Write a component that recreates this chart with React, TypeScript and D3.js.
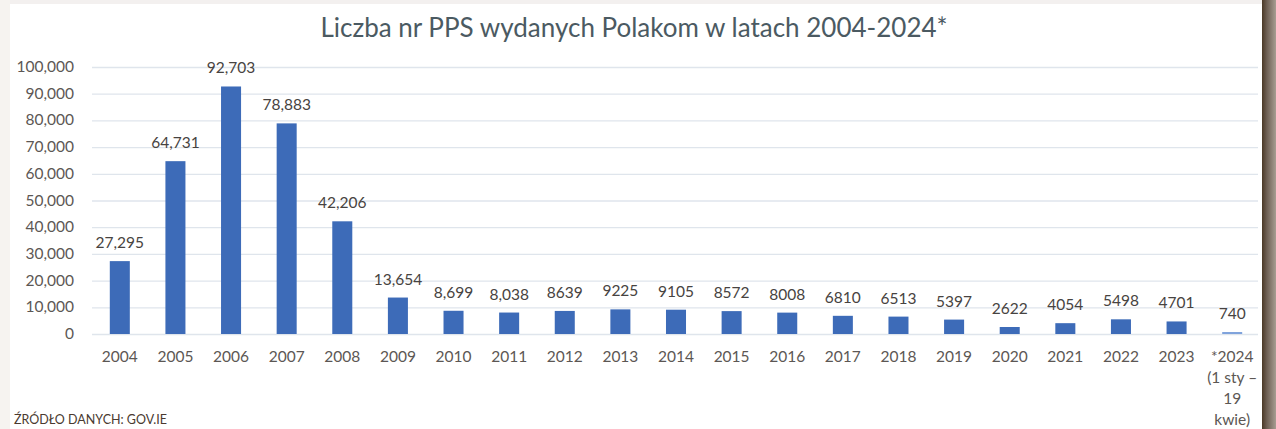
import * as d3 from "d3";
import React, { useRef, useEffect } from "react";

const years = ["2004", "2005", "2006", "2007", "2008", "2009", "2010", "2011", "2012", "2013", "2014", "2015", "2016", "2017", "2018", "2019", "2020", "2021", "2022", "2023", "*2024"];
const counts = [27295, 64731, 92703, 78883, 42206, 13654, 8699, 8038, 8639, 9225, 9105, 8572, 8008, 6810, 6513, 5397, 2622, 4054, 5498, 4701, 740];
const valueLabels = ["27,295", "64,731", "92,703", "78,883", "42,206", "13,654", "8,699", "8,038", "8639", "9225", "9105", "8572", "8008", "6810", "6513", "5397", "2622", "4054", "5498", "4701", "740"];
const lastYearNote = ["(1 sty –", "19", "kwie)"];
const yTicks = [0, 10000, 20000, 30000, 40000, 50000, 60000, 70000, 80000, 90000, 100000];

const W = 1276;
const H = 429;
const FONT = "Lato, 'Open Sans', sans-serif";

const App = () => {
  const svgRef = useRef<SVGSVGElement>(null);

  useEffect(() => {
    const svg = d3.select(svgRef.current);
    svg.selectAll("*").remove();

    // page background + scan edges
    svg.append("rect").attr("width", W).attr("height", H).attr("fill", "#ffffff");
    svg.append("rect").attr("width", W).attr("height", 4).attr("fill", "#f3f0ef");
    svg.append("rect").attr("width", 10).attr("height", H).attr("fill", "#f6f3f0");
    const grad = svg.append("defs").append("linearGradient").attr("id", "shadow");
    grad.append("stop").attr("offset", "0%").attr("stop-color", "#4a3826");
    grad.append("stop").attr("offset", "35%").attr("stop-color", "#6e6054");
    grad.append("stop").attr("offset", "100%").attr("stop-color", "#a89d92");
    svg.append("rect").attr("x", 1262).attr("width", W - 1262).attr("height", H).attr("fill", "url(#shadow)");

    const x = d3.scaleBand().domain(years).range([92, 1260]).paddingInner(0.64).paddingOuter(0.32);
    const y = d3.scaleLinear().domain([0, 100000]).range([334, 67]);

    // title
    svg.append("text")
      .attr("x", 634).attr("y", 37)
      .attr("text-anchor", "middle")
      .style("font-family", FONT).style("font-size", "26px")
      .style("fill", "#4b5a62")
      .text("Liczba nr PPS wydanych Polakom w latach 2004-2024*");

    // gridlines
    svg.append("g")
      .attr("transform", "translate(92,0)")
      .call(d3.axisLeft(y).tickValues(yTicks).tickSize(-1166).tickFormat(() => ""))
      .call((g) => g.select(".domain").remove())
      .selectAll("line")
      .attr("stroke", "#dfe5ec")
      .attr("stroke-width", 1.3);

    // y labels
    svg.append("g")
      .selectAll("text")
      .data(yTicks)
      .enter()
      .append("text")
      .attr("x", 74)
      .attr("y", (d) => y(d) + 5)
      .attr("text-anchor", "end")
      .style("font-family", FONT).style("font-size", "15.5px")
      .style("fill", "#5c5754")
      .text((d) => d3.format(",")(d));

    // bars
    svg.append("g")
      .selectAll("rect")
      .data(counts)
      .enter()
      .append("rect")
      .attr("x", (d, i) => x(years[i]))
      .attr("y", (d) => y(d))
      .attr("width", x.bandwidth())
      .attr("height", (d) => y(0) - y(d))
      .attr("fill", (d, i) => (i === counts.length - 1 ? "#7fa3dc" : "#3d6bb8"));

    // value labels
    svg.append("g")
      .selectAll("text")
      .data(counts)
      .enter()
      .append("text")
      .attr("x", (d, i) => x(years[i]) + x.bandwidth() / 2)
      .attr("y", (d) => y(d) - 13)
      .attr("text-anchor", "middle")
      .style("font-family", FONT).style("font-size", "15.5px")
      .style("fill", "#474341")
      .text((d, i) => valueLabels[i]);

    // category labels
    svg.append("g")
      .selectAll("text")
      .data(years)
      .enter()
      .append("text")
      .attr("x", (d) => x(d) + x.bandwidth() / 2)
      .attr("y", 362)
      .attr("text-anchor", "middle")
      .style("font-family", FONT).style("font-size", "15.5px")
      .style("fill", "#5c5754")
      .text((d) => d);

    const last = years[years.length - 1];
    svg.append("g")
      .selectAll("text")
      .data(lastYearNote)
      .enter()
      .append("text")
      .attr("x", x(last) + x.bandwidth() / 2)
      .attr("y", (d, i) => 383 + i * 21)
      .attr("text-anchor", "middle")
      .style("font-family", FONT).style("font-size", "15.5px")
      .style("fill", "#5c5754")
      .text((d) => d);

    // source note
    svg.append("text")
      .attr("x", 14).attr("y", 424)
      .style("font-family", FONT).style("font-size", "12.5px")
      .style("fill", "#4a3a30")
      .text("ŹRÓDŁO DANYCH: GOV.IE");
  }, []);

  return (
    <div style={{ position: "absolute", left: 0, top: 0 }}>
      <svg ref={svgRef} width={W} height={H} style={{ display: "block" }}></svg>
    </div>
  );
};

export default App;
